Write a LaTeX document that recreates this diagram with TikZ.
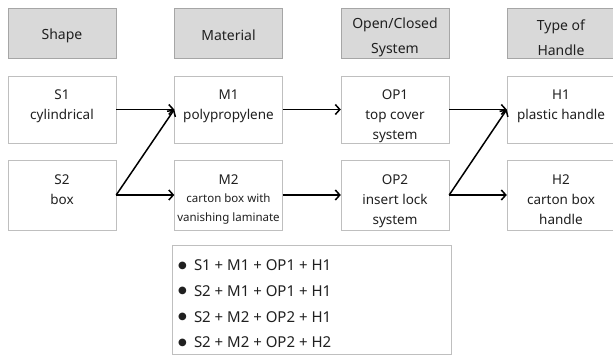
\documentclass[tikz,border=0pt]{standalone}
\usepackage{fontspec}
\setmainfont{Noto Sans}
\newfontfamily\dejavu{DejaVu Sans}
\usetikzlibrary{arrows.meta}
\definecolor{hdrfill}{HTML}{D9D9D9}
\definecolor{hdrline}{HTML}{A6A6A6}
\definecolor{cellline}{HTML}{BFBFBF}
\definecolor{txtcol}{HTML}{202020}
\newcommand{\bul}{\makebox[16pt][l]{\dejavu\fontsize{10}{10}\selectfont\raisebox{2.6pt}{●}}}
\begin{document}
\begin{tikzpicture}[x=1pt,y=-1pt,
  hdr/.style={draw=hdrline, fill=hdrfill, minimum width=108pt, minimum height=50pt, inner sep=0pt},
  hdrtxt/.style={align=center, inner sep=0pt, text=txtcol, font=\fontsize{14}{25}\selectfont},
  cell/.style={draw=cellline, fill=white, minimum width=108pt, inner sep=0pt},
  txt/.style={anchor=north, align=center, inner sep=0pt, text=txtcol, font=\fontsize{13.5}{20}\selectfont},
  arr/.style={line width=1.5pt, -{Straight Barb[length=4.5pt,width=10pt,line width=1.5pt]}}
]
\useasboundingbox (0,0) rectangle (613,358);
% headers
\node[hdr] (hs) at (62,33) {};
\node[hdr] (hm) at (228.5,33) {};
\node[hdr] (ho) at (395,33) {};
\node[hdr] (hh) at (561,33) {};
\node[hdrtxt] (hst) at ([yshift=-2.5pt]hs.center) {Shape};
\node[hdrtxt] (hmt) at ([yshift=-2.5pt]hm.center) {Material};
\node[hdrtxt] (hot) at ([yshift=-4.5pt]ho.center) {Open/Closed\\System};
\node[hdrtxt] (hht) at ([yshift=-4.5pt]hh.center) {Type of\\Handle};
% row 1 boxes
\node[cell, minimum height=67pt] (s1) at (62,109.5) {};
\node[cell, minimum height=67pt] (m1) at (228.5,109.5) {};
\node[cell, minimum height=67pt] (op1) at (395,109.5) {};
\node[cell, minimum height=67pt] (h1) at (561,109.5) {};
% row 2 boxes
\node[cell, minimum height=70pt] (s2) at (62,195) {};
\node[cell, minimum height=70pt] (m2) at (228.5,195) {};
\node[cell, minimum height=70pt] (op2) at (395,195) {};
\node[cell, minimum height=70pt] (h2) at (561,195) {};
% texts
\node[txt] (s1t) at ([yshift=-13.5pt]s1.north) {S1\\cylindrical};
\node[txt] (m1t) at ([yshift=-13.5pt]m1.north) {M1\\polypropylene};
\node[txt] (op1t) at ([yshift=-13.5pt]op1.north) {OP1\\top cover\\system};
\node[txt] (h1t) at ([yshift=-13.5pt]h1.north) {H1\\plastic handle};
\node[txt] (s2t) at ([yshift=-14.5pt]s2.north) {S2\\box};
\node[txt, font=\fontsize{13.5}{18.5}\selectfont] (m2t) at ([yshift=-14.5pt]m2.north) {M2\\{\fontsize{11.5}{18.5}\selectfont carton box with}\\{\fontsize{11.5}{18.5}\selectfont vanishing laminate}};
\node[txt] (op2t) at ([yshift=-14.5pt]op2.north) {OP2\\insert lock\\system};
\node[txt] (h2t) at ([yshift=-14.5pt]h2.north) {H2\\carton box\\handle};
% arrows
\draw[arr] (s1.east) -- (m1.west);
\draw[arr] (s2.east) -- (m1.west);
\draw[arr] (s2.east) -- (m2.west);
\draw[arr] (m1.east) -- (op1.west);
\draw[arr] (m2.east) -- (op2.west);
\draw[arr] (op1.east) -- (h1.west);
\draw[arr] (op2.east) -- (h1.west);
\draw[arr] (op2.east) -- (h2.west);
% combinations list
\node[draw=cellline, fill=white, minimum width=279pt, minimum height=109pt, inner sep=0pt] (list) at (311.5,299.5) {};
\node[anchor=north west, align=left, inner sep=0pt, text=txtcol, font=\fontsize{15}{25.7}\selectfont] (listt) at ([xshift=6pt,yshift=-15pt]list.north west)
{\bul S1 + M1 + OP1 + H1\\\bul S2 + M1 + OP1 + H1\\\bul S2 + M2 + OP2 + H1\\\bul S2 + M2 + OP2 + H2};
\end{tikzpicture}
\end{document}
